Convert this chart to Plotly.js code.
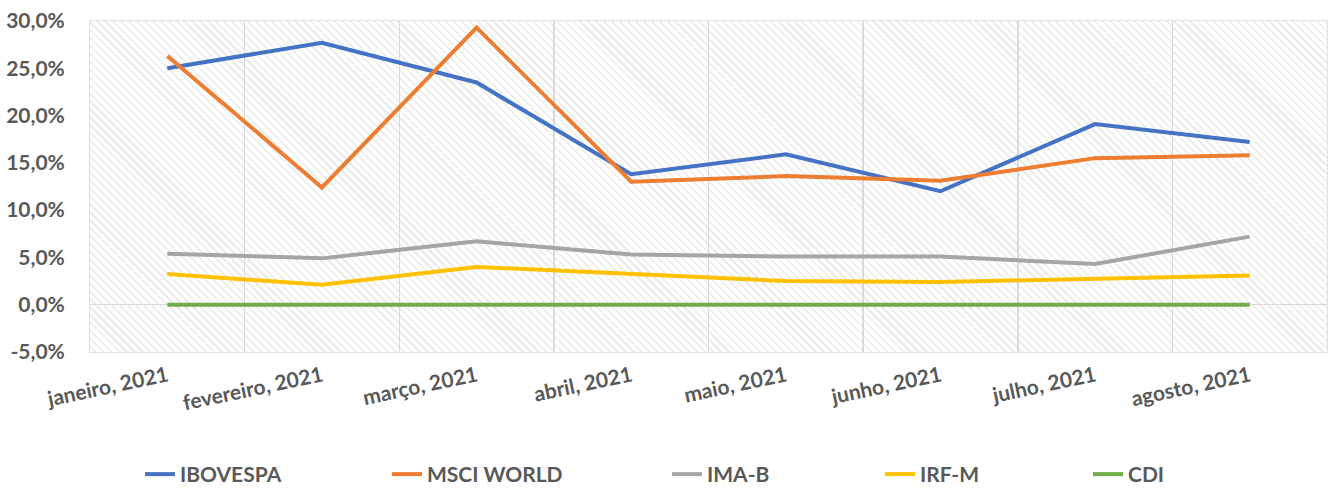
<!DOCTYPE html>
<html>
<head>
<meta charset="utf-8">
<script src="https://cdn.plot.ly/plotly-3.0.1.min.js"></script>
<style>
  html, body { margin: 0; padding: 0; background: #ffffff; }
  #wrap { position: relative; width: 1330px; height: 488px; }
  #hatch {
    position: absolute; left: 90px; top: 21px; width: 1237px; height: 331px;
    background: repeating-linear-gradient(45deg, #ffffff 0px, #ffffff 3px, #ebebeb 3px, #ebebeb 4.6px, #ffffff 4.6px, #ffffff 5.6px);
    z-index: 0;
  }
  #chart { position: absolute; left: 0; top: 0; width: 1330px; height: 488px; z-index: 1; }
</style>
</head>
<body>
<div id="wrap">
  <div id="hatch"></div>
  <div id="chart"></div>
</div>
<script>
const categories = ['janeiro, 2021', 'fevereiro, 2021', 'março, 2021', 'abril, 2021', 'maio, 2021', 'junho, 2021', 'julho, 2021', 'agosto, 2021'];
const ibovespa  = [25.0, 27.7, 23.5, 13.8, 15.9, 12.0, 19.1, 17.2];
const msciWorld = [26.3, 12.4, 29.3, 13.0, 13.6, 13.1, 15.5, 15.8];
const imaB      = [5.4, 4.9, 6.7, 5.3, 5.1, 5.1, 4.3, 7.2];
const irfM      = [3.25, 2.1, 4.0, 3.3, 2.5, 2.4, 2.7, 3.1];
const cdi       = [0.0, 0.0, 0.0, 0.0, 0.0, 0.0, 0.0, 0.0];
const seriesNames = ['IBOVESPA', 'MSCI WORLD', 'IMA-B', 'IRF-M', 'CDI'];
const yTickVals = [-5, 0, 5, 10, 15, 20, 25, 30];
const yTickText = ['-5,0%', '0,0%', '5,0%', '10,0%', '15,0%', '20,0%', '25,0%', '30,0%'];

const colors = ['#4472C4', '#ED7D31', '#A5A5A5', '#FFC000', '#70AD47'];
const allSeries = [ibovespa, msciWorld, imaB, irfM, cdi];
const legendIds = ['legend', 'legend2', 'legend3', 'legend4', 'legend5'];

const traces = allSeries.map((vals, i) => ({
  type: 'scatter',
  mode: 'lines',
  x: categories,
  y: vals,
  name: seriesNames[i],
  legend: legendIds[i],
  line: { color: colors[i], width: 4 },
  hoverinfo: 'skip'
}));

const plotL = 90, plotW = 1237;
const legendPx = [140, 387, 667, 880, 1088];
const FONT = 'Lato, "Open Sans", sans-serif';
const legFont = { family: FONT, size: 21, color: '#595959', weight: 700 };

const layout = {
  width: 1330,
  height: 488,
  margin: { l: 90, r: 3, t: 21, b: 136, autoexpand: false },
  paper_bgcolor: 'rgba(0,0,0,0)',
  plot_bgcolor: 'rgba(0,0,0,0)',
  showlegend: true,
  font: { family: FONT, color: '#595959' },
  xaxis: {
    type: 'category',
    range: [-0.5, categories.length - 0.5],
    tickson: 'boundaries',
    showgrid: true,
    gridcolor: '#d9d9d9',
    gridwidth: 1.5,
    showline: true,
    linecolor: '#e2e2e2',
    linewidth: 1,
    mirror: true,
    ticks: '',
    tickangle: -12,
    ticklabelstandoff: 3,
    tickfont: { family: FONT, size: 21, color: '#595959', weight: 700 },
    zeroline: false,
    automargin: false,
    fixedrange: true
  },
  yaxis: {
    range: [-5, 30],
    tickvals: yTickVals,
    ticktext: yTickText,
    showgrid: false,
    zeroline: true,
    zerolinecolor: '#d9d9d9',
    zerolinewidth: 1.5,
    showline: true,
    linecolor: '#e2e2e2',
    linewidth: 1,
    mirror: true,
    ticks: '',
    ticklabelstandoff: 20,
    tickfont: { family: FONT, size: 21, color: '#595959', weight: 700 },
    automargin: false,
    fixedrange: true
  }
};

legendIds.forEach((id, i) => {
  layout[id] = {
    orientation: 'h',
    x: (legendPx[i] - plotL) / plotW,
    xanchor: 'left',
    y: -0.37,
    yanchor: 'middle',
    bgcolor: 'rgba(0,0,0,0)',
    borderwidth: 0,
    font: legFont,
    itemwidth: 30
  };
});

Plotly.newPlot('chart', traces, layout, { displayModeBar: false, staticPlot: true }).then(gd => {
  const s = gd._fullLayout._size;
  const h = document.getElementById('hatch');
  h.style.left = s.l + 'px';
  h.style.top = s.t + 'px';
  h.style.width = s.w + 'px';
  h.style.height = s.h + 'px';
});
</script>
</body>
</html>
